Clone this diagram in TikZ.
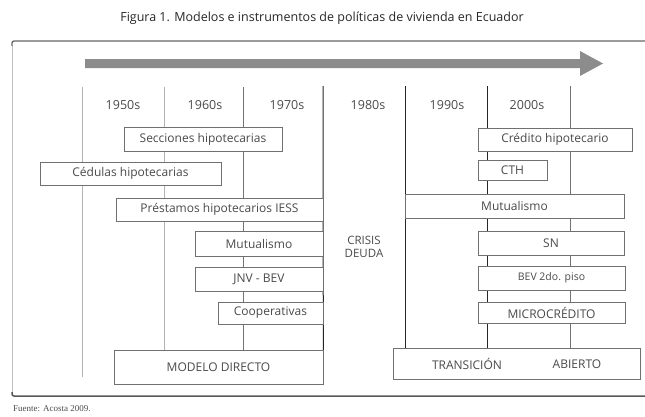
\documentclass[tikz,border=0pt]{standalone}
\usepackage{fontspec}
\setmainfont{Open Sans}
\newfontfamily\srcfont{Liberation Serif}
\usetikzlibrary{backgrounds}
\definecolor{boxline}{HTML}{707070}
\definecolor{boxtext}{HTML}{4A4A4A}
\definecolor{arrowgray}{HTML}{8C8C8C}
\begin{document}
\begin{tikzpicture}[x=1pt,y=-1pt,
  box/.style={draw=boxline, line width=0.7pt, fill=white, inner sep=0pt, text=boxtext, font=\fontsize{12}{13}\selectfont},
  yearlbl/.style={text=boxtext, font=\fontsize{12.5}{14}\selectfont, inner sep=0pt},
  darkline/.style={draw=black!85, line width=1pt},
  midline/.style={draw=black!55, line width=0.7pt},
  lightline/.style={draw=black!30, line width=0.6pt}]
\useasboundingbox (0,0) rectangle (645,416);
% title
\node[font=\fontsize{12.5}{14}\selectfont, text=black!85, inner sep=0pt] (title) at (322,18) {Figura 1. Modelos e instrumentos de políticas de vivienda en Ecuador};
% frame
\draw[black!60, line width=1.3pt, rounded corners=2pt] (645,41) -- (12,41) -- (12,46);
\draw[black!25, line width=0.6pt] (12,46) -- (12,392);
\draw[black!65, line width=1.5pt, rounded corners=2pt] (12,392) -- (12,396) -- (645,396);
% arrow
\fill[arrowgray] (85,59) -- (580,59) -- (580,51) -- (603,63.5) -- (580,76) -- (580,68) -- (85,68) -- cycle;
% years
\node[yearlbl] (y50) at (123,105) {1950s};
\node[yearlbl] (y60) at (205,105) {1960s};
\node[yearlbl] (y70) at (287,105) {1970s};
\node[yearlbl] (y80) at (368,105) {1980s};
\node[yearlbl] (y90) at (447,105) {1990s};
\node[yearlbl] (y00) at (527,105) {2000s};
% left group boxes
\node[box, minimum width=158pt, minimum height=24pt] (secc) at (203,139) {Secciones hipotecarias};
\node[box, minimum width=181pt, minimum height=23pt] (cedu) at (130.5,173.5) {Cédulas hipotecarias};
\node[box, minimum width=207pt, minimum height=23pt] (prest) at (219.5,209.5) {Préstamos hipotecarios IESS};
\node[box, minimum width=128pt, minimum height=25pt] (mutl) at (259,243.5) {Mutualismo};
\node[box, minimum width=128pt, minimum height=24pt] (jnv) at (259,279) {JNV - BEV};
\node[box, minimum width=105pt, minimum height=22pt] (coop) at (270.5,313) {Cooperativas};
\node[box, minimum width=209pt, minimum height=34pt] (modelo) at (218.5,367) {MODELO DIRECTO};
% crisis
\node[text=boxtext, font=\fontsize{11.5}{13}\selectfont, align=center, inner sep=0pt] (crisis) at (364,246.5) {CRISIS\\DEUDA};
% right group boxes
\node[box, minimum width=154pt, minimum height=23pt] (cred) at (555,139.5) {Crédito hipotecario};
\node[box, minimum width=69pt, minimum height=20pt] (cth) at (512.5,170) {CTH};
\node[box, minimum width=219pt, minimum height=24pt] (mutr) at (514.5,206) {Mutualismo};
\node[box, minimum width=146pt, minimum height=24pt] (sn) at (551,243) {SN};
\node[box, minimum width=147pt, minimum height=24pt, font=\fontsize{10.5}{12}\selectfont] (bev) at (551.5,278) {BEV 2do. piso};
\node[box, minimum width=147pt, minimum height=21pt] (micro) at (551.5,312.5) {MICROCRÉDITO};
\node[box, minimum width=247pt, minimum height=31pt] (abier) at (516.5,363.5) {};
\node[text=boxtext, font=\fontsize{12}{13}\selectfont, inner sep=0pt] (trans) at (467,364) {TRANSICIÓN};
\node[text=boxtext, font=\fontsize{12}{13}\selectfont, inner sep=0pt] (abt) at (577,364) {ABIERTO};
% timeline gridlines
\coordinate (t82) at (82,87);
\coordinate (b82) at (82,377);
\coordinate (t164) at (164,87);
\coordinate (t243) at (243,87);
\coordinate (t323) at (323,86);
\coordinate (t405) at (405,86);
\coordinate (t487) at (487,86);
\coordinate (t570) at (570,86);
\begin{pgfonlayer}{background}
\draw[lightline] (t82) -- (b82);
\draw[lightline] (t164) -- (t164 |- modelo.north);
\draw[midline] (t243) -- (t243 |- modelo.north);
\draw[darkline] (t323) -- (modelo.south east);
\draw[darkline] (t405) -- (t405 |- abier.north);
\draw[darkline] (t487) -- (t487 |- abier.north);
\draw[midline] (t570) -- (t570 |- abier.north);
\end{pgfonlayer}
% source
\node[anchor=west, font=\srcfont\fontsize{9}{10}\selectfont, text=black!70, inner sep=0pt] (src) at (13,409) {Fuente: Acosta 2009.};
\end{tikzpicture}
\end{document}
